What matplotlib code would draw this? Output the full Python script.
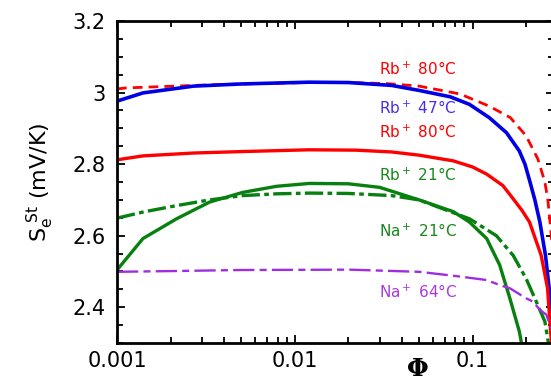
import matplotlib
matplotlib.use('Agg')
import matplotlib.pyplot as plt
from matplotlib.ticker import MultipleLocator, LogLocator, FixedLocator, NullFormatter

# Rb+ 47C (solid blue)
rb47_x = [0.001, 0.0014, 0.0027, 0.005, 0.012, 0.02, 0.035, 0.05, 0.075, 0.096,
          0.124, 0.155, 0.183, 0.197, 0.209, 0.224, 0.239, 0.257, 0.27, 0.28]
rb47_y = [2.976, 2.999, 3.018, 3.024, 3.029, 3.028, 3.02, 3.006, 2.988, 2.967,
          2.93, 2.888, 2.837, 2.80, 2.755, 2.70, 2.638, 2.545, 2.45, 2.30]

# Rb+ 80C (dashed red, upper)
rb80d_x = [0.001, 0.00113, 0.0027, 0.005, 0.012, 0.02, 0.033, 0.05, 0.085, 0.124,
           0.163, 0.2, 0.233, 0.255, 0.265, 0.275, 0.285]
rb80d_y = [3.01, 3.013, 3.020, 3.024, 3.028, 3.028, 3.025, 3.018, 2.996, 2.962,
           2.93, 2.879, 2.814, 2.75, 2.70, 2.62, 2.52]

# Rb+ 80C (solid red)
rb80_x = [0.001, 0.0014, 0.0027, 0.005, 0.012, 0.022, 0.035, 0.05, 0.078, 0.1,
          0.12, 0.148, 0.165, 0.19, 0.209, 0.243, 0.264, 0.272, 0.28]
rb80_y = [2.812, 2.823, 2.831, 2.835, 2.840, 2.839, 2.834, 2.825, 2.809, 2.792,
          2.772, 2.74, 2.71, 2.67, 2.638, 2.545, 2.453, 2.36, 2.28]

# Rb+ 21C (solid green)
rb21_x = [0.001, 0.0014, 0.00216, 0.00332, 0.0051, 0.0079, 0.0121, 0.02, 0.03, 0.05,
          0.078, 0.096, 0.12, 0.142, 0.162, 0.183, 0.19]
rb21_y = [2.504, 2.592, 2.647, 2.694, 2.721, 2.738, 2.746, 2.745, 2.735, 2.70,
          2.667, 2.638, 2.592, 2.518, 2.425, 2.333, 2.29]

# Na+ 21C (dash-dot green)
na21_x = [0.001, 0.0014, 0.00216, 0.00332, 0.0051, 0.0079, 0.0121, 0.02, 0.035, 0.05,
          0.0962, 0.136, 0.169, 0.2, 0.228, 0.255, 0.265, 0.275]
na21_y = [2.649, 2.666, 2.684, 2.70, 2.712, 2.717, 2.719, 2.718, 2.712, 2.70,
          2.647, 2.60, 2.545, 2.48, 2.416, 2.36, 2.31, 2.26]

# Na+ 64C (dash-dot purple)
na64_x = [0.001, 0.002, 0.005, 0.0203, 0.05, 0.078, 0.12, 0.142, 0.162, 0.2,
          0.218, 0.239, 0.26, 0.272, 0.285]
na64_y = [2.499, 2.501, 2.504, 2.505, 2.499, 2.488, 2.476, 2.462, 2.453, 2.425,
          2.416, 2.393, 2.379, 2.351, 2.33]

fig = plt.figure(figsize=(5.51, 3.81), dpi=100)
ax = fig.add_axes([117 / 551, 1 - 343 / 381, (554 - 117) / 551, (343 - 21) / 381])

ax.plot(rb80d_x, rb80d_y, color='#ff0000', lw=2.0, dashes=(3.5, 2.2))
ax.plot(rb47_x, rb47_y, color='#0000e6', lw=2.6)
ax.plot(rb80_x, rb80_y, color='#ff0000', lw=2.4)
ax.plot(rb21_x, rb21_y, color='#07800f', lw=2.4)
ax.plot(na21_x, na21_y, color='#07800f', lw=2.4, dashes=(5.5, 1.3, 1.4, 1.3))
ax.plot(na64_x, na64_y, color='#9e2ee0', lw=1.7, dashes=(9, 2.2, 3, 2.2))

ax.set_xscale('log')
ax.set_xlim(0.001, 0.287)
ax.set_ylim(2.3, 3.2)

ax.yaxis.set_major_locator(FixedLocator([2.4, 2.6, 2.8, 3.0, 3.2]))
ax.yaxis.set_major_formatter(matplotlib.ticker.FuncFormatter(lambda v, p: f'{v:g}'))
ax.yaxis.set_minor_locator(MultipleLocator(0.05))
ax.xaxis.set_major_locator(FixedLocator([0.001, 0.01, 0.1]))
ax.xaxis.set_major_formatter(matplotlib.ticker.FuncFormatter(lambda v, p: f'{v:g}'))
ax.xaxis.set_minor_locator(LogLocator(base=10, subs=range(2, 10)))
ax.xaxis.set_minor_formatter(NullFormatter())

ax.tick_params(which='both', direction='in', top=True, right=True, width=1.3)
ax.tick_params(which='major', length=6, labelsize=15)
ax.tick_params(which='minor', length=4.5)
ax.tick_params(axis='y', which='both', pad=8)
ax.tick_params(axis='x', which='both', pad=6)
for s in ax.spines.values():
    s.set_linewidth(2)

ax.set_ylabel(r'$\mathregular{S_e^{\ St}}$ (mV/K)', fontsize=16, labelpad=12)
fig.text(418 / 551, 1 - 369 / 381, 'Φ', fontsize=18, family='DejaVu Serif',
         weight='bold', ha='center', va='center')

lbl_x = 0.0297
labels = [
    (3.050, r'Rb$^+$ 80°C', '#ff0000'),
    (2.939, r'Rb$^+$ 47°C', '#4a2ee6'),
    (2.874, r'Rb$^+$ 80°C', '#ff0000'),
    (2.754, r'Rb$^+$ 21°C', '#17881c'),
    (2.596, r'Na$^+$ 21°C', '#17881c'),
    (2.427, r'Na$^+$ 64°C', '#a83ae0'),
]
for yy, t, c in labels:
    ax.text(lbl_x, yy, t, color=c, fontsize=11, va='baseline', ha='left')

fig.savefig('out.png', dpi=100)
